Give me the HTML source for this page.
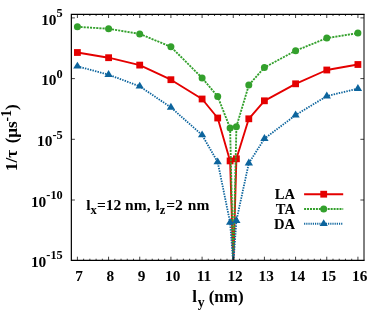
<!DOCTYPE html><html><head><meta charset="utf-8"><style>html,body{margin:0;padding:0;background:#fff}svg{display:block;will-change:transform}text{font-family:"Liberation Serif",serif;font-weight:bold;fill:#000}</style></head><body>
<svg width="382" height="320" viewBox="0 0 382 320">
<rect width="382" height="320" fill="#fff"/>
<defs><clipPath id="c"><rect x="71.3" y="14.4" width="292.6" height="245.9"/></clipPath></defs>
<g clip-path="url(#c)" fill="none" stroke-linejoin="round">
<path d="M77.4 52.5 L108.6 57.7 L139.7 65.1 L170.9 79.7 L202.1 99.0 L217.7 118.0 L230.1 160.9 L233.3 264.3 L236.4 158.8 L248.8 118.8 L264.4 100.8 L295.6 83.8 L326.8 70.0 L357.9 64.5" stroke="#e40000" stroke-width="1.9"/>
</g>
<rect x="74.0" y="49.1" width="6.8" height="6.8" fill="#e40000"/>
<rect x="105.2" y="54.3" width="6.8" height="6.8" fill="#e40000"/>
<rect x="136.3" y="61.7" width="6.8" height="6.8" fill="#e40000"/>
<rect x="167.5" y="76.3" width="6.8" height="6.8" fill="#e40000"/>
<rect x="198.7" y="95.6" width="6.8" height="6.8" fill="#e40000"/>
<rect x="214.3" y="114.6" width="6.8" height="6.8" fill="#e40000"/>
<rect x="226.7" y="157.5" width="6.8" height="6.8" fill="#e40000"/>
<rect x="233.0" y="155.4" width="6.8" height="6.8" fill="#e40000"/>
<rect x="245.4" y="115.4" width="6.8" height="6.8" fill="#e40000"/>
<rect x="261.0" y="97.4" width="6.8" height="6.8" fill="#e40000"/>
<rect x="292.2" y="80.4" width="6.8" height="6.8" fill="#e40000"/>
<rect x="323.4" y="66.6" width="6.8" height="6.8" fill="#e40000"/>
<rect x="354.5" y="61.1" width="6.8" height="6.8" fill="#e40000"/>
<g clip-path="url(#c)" fill="none" stroke-linejoin="round">
<path d="M77.4 26.8 L108.6 28.8 L139.7 33.9 L170.9 46.8 L202.1 77.9 L217.7 96.5 L230.1 128.1 L233.3 264.3 L236.4 126.7 L248.8 85.1 L264.4 67.5 L295.6 50.7 L326.8 38.1 L357.9 33.1" stroke="#33a02c" stroke-width="1.85" stroke-dasharray="2.1 1.05"/>
</g>
<circle cx="77.4" cy="26.8" r="3.5" fill="#33a02c"/>
<circle cx="108.6" cy="28.8" r="3.5" fill="#33a02c"/>
<circle cx="139.7" cy="33.9" r="3.5" fill="#33a02c"/>
<circle cx="170.9" cy="46.8" r="3.5" fill="#33a02c"/>
<circle cx="202.1" cy="77.9" r="3.5" fill="#33a02c"/>
<circle cx="217.7" cy="96.5" r="3.5" fill="#33a02c"/>
<circle cx="230.1" cy="128.1" r="3.5" fill="#33a02c"/>
<circle cx="236.4" cy="126.7" r="3.5" fill="#33a02c"/>
<circle cx="248.8" cy="85.1" r="3.5" fill="#33a02c"/>
<circle cx="264.4" cy="67.5" r="3.5" fill="#33a02c"/>
<circle cx="295.6" cy="50.7" r="3.5" fill="#33a02c"/>
<circle cx="326.8" cy="38.1" r="3.5" fill="#33a02c"/>
<circle cx="357.9" cy="33.1" r="3.5" fill="#33a02c"/>
<g clip-path="url(#c)" fill="none" stroke-linejoin="round">
<path d="M77.4 66.3 L108.6 74.7 L139.7 86.3 L170.9 107.4 L202.1 135.0 L217.7 162.0 L230.1 222.5 L233.3 264.3 L236.4 220.6 L248.8 163.2 L264.4 138.7 L295.6 115.1 L326.8 96.1 L357.9 88.6" stroke="#0c649d" stroke-width="1.8" stroke-dasharray="1.45 1.15"/>
</g>
<path d="M77.4 61.7 L81.6 68.6 L73.2 68.6 Z" fill="#0c649d"/>
<path d="M108.6 70.1 L112.7 77.0 L104.4 77.0 Z" fill="#0c649d"/>
<path d="M139.7 81.7 L143.9 88.6 L135.6 88.6 Z" fill="#0c649d"/>
<path d="M170.9 102.8 L175.1 109.8 L166.8 109.8 Z" fill="#0c649d"/>
<path d="M202.1 130.4 L206.2 137.3 L197.9 137.3 Z" fill="#0c649d"/>
<path d="M217.7 157.4 L221.8 164.3 L213.5 164.3 Z" fill="#0c649d"/>
<path d="M230.1 217.9 L234.3 224.8 L226.0 224.8 Z" fill="#0c649d"/>
<path d="M236.4 216.0 L240.5 222.9 L232.2 222.9 Z" fill="#0c649d"/>
<path d="M248.8 158.6 L253.0 165.5 L244.7 165.5 Z" fill="#0c649d"/>
<path d="M264.4 134.1 L268.6 141.0 L260.3 141.0 Z" fill="#0c649d"/>
<path d="M295.6 110.5 L299.7 117.4 L291.4 117.4 Z" fill="#0c649d"/>
<path d="M326.8 91.5 L330.9 98.4 L322.6 98.4 Z" fill="#0c649d"/>
<path d="M357.9 84.0 L362.1 90.9 L353.8 90.9 Z" fill="#0c649d"/>
<g stroke="#000" stroke-width="1.2" fill="none">
<path d="M364.00 14.40H71.35V260.30H364.00" stroke-linecap="square"/>
<path d="M364.00 14.40V260.30" stroke-width="1"/>
<path d="M77.40 260.3v-3.6 M77.40 14.4v3.6 M83.63 260.3v-1.6 M83.63 14.4v1.6 M89.87 260.3v-1.6 M89.87 14.4v1.6 M96.10 260.3v-1.6 M96.10 14.4v1.6 M102.34 260.3v-1.6 M102.34 14.4v1.6 M108.57 260.3v-3.6 M108.57 14.4v3.6 M114.80 260.3v-1.6 M114.80 14.4v1.6 M121.04 260.3v-1.6 M121.04 14.4v1.6 M127.27 260.3v-1.6 M127.27 14.4v1.6 M133.51 260.3v-1.6 M133.51 14.4v1.6 M139.74 260.3v-3.6 M139.74 14.4v3.6 M145.97 260.3v-1.6 M145.97 14.4v1.6 M152.21 260.3v-1.6 M152.21 14.4v1.6 M158.44 260.3v-1.6 M158.44 14.4v1.6 M164.68 260.3v-1.6 M164.68 14.4v1.6 M170.91 260.3v-3.6 M170.91 14.4v3.6 M177.14 260.3v-1.6 M177.14 14.4v1.6 M183.38 260.3v-1.6 M183.38 14.4v1.6 M189.61 260.3v-1.6 M189.61 14.4v1.6 M195.85 260.3v-1.6 M195.85 14.4v1.6 M202.08 260.3v-3.6 M202.08 14.4v3.6 M208.31 260.3v-1.6 M208.31 14.4v1.6 M214.55 260.3v-1.6 M214.55 14.4v1.6 M220.78 260.3v-1.6 M220.78 14.4v1.6 M227.02 260.3v-1.6 M227.02 14.4v1.6 M233.25 260.3v-3.6 M233.25 14.4v3.6 M239.48 260.3v-1.6 M239.48 14.4v1.6 M245.72 260.3v-1.6 M245.72 14.4v1.6 M251.95 260.3v-1.6 M251.95 14.4v1.6 M258.19 260.3v-1.6 M258.19 14.4v1.6 M264.42 260.3v-3.6 M264.42 14.4v3.6 M270.65 260.3v-1.6 M270.65 14.4v1.6 M276.89 260.3v-1.6 M276.89 14.4v1.6 M283.12 260.3v-1.6 M283.12 14.4v1.6 M289.36 260.3v-1.6 M289.36 14.4v1.6 M295.59 260.3v-3.6 M295.59 14.4v3.6 M301.82 260.3v-1.6 M301.82 14.4v1.6 M308.06 260.3v-1.6 M308.06 14.4v1.6 M314.29 260.3v-1.6 M314.29 14.4v1.6 M320.53 260.3v-1.6 M320.53 14.4v1.6 M326.76 260.3v-3.6 M326.76 14.4v3.6 M332.99 260.3v-1.6 M332.99 14.4v1.6 M339.23 260.3v-1.6 M339.23 14.4v1.6 M345.46 260.3v-1.6 M345.46 14.4v1.6 M351.70 260.3v-1.6 M351.70 14.4v1.6 M357.93 260.3v-3.6 M357.93 14.4v3.6 M71.3 17.90h3.6 M364.0 17.90h-3.6 M71.3 78.60h3.6 M364.0 78.60h-3.6 M71.3 139.30h3.6 M364.0 139.30h-3.6 M71.3 200.00h3.6 M364.0 200.00h-3.6 " stroke-width="0.75"/>
</g>
<text x="79.2" y="281" font-size="15.3" text-anchor="middle">7</text>
<text x="110.4" y="281" font-size="15.3" text-anchor="middle">8</text>
<text x="141.5" y="281" font-size="15.3" text-anchor="middle">9</text>
<text x="172.7" y="281" font-size="15.3" text-anchor="middle">10</text>
<text x="203.9" y="281" font-size="15.3" text-anchor="middle">11</text>
<text x="235.1" y="281" font-size="15.3" text-anchor="middle">12</text>
<text x="266.2" y="281" font-size="15.3" text-anchor="middle">13</text>
<text x="297.4" y="281" font-size="15.3" text-anchor="middle">14</text>
<text x="328.6" y="281" font-size="15.3" text-anchor="middle">15</text>
<text x="359.7" y="281" font-size="15.3" text-anchor="middle">16</text>
<text x="62.7" y="25" font-size="15.4" text-anchor="end">10<tspan font-size="12.3" dy="-8">5</tspan></text>
<text x="62.7" y="85" font-size="15.4" text-anchor="end">10<tspan font-size="12.3" dy="-7">0</tspan></text>
<text x="62.7" y="146" font-size="15.4" text-anchor="end">10<tspan font-size="12.3" dy="-7">-5</tspan></text>
<text x="62.7" y="207" font-size="15.4" text-anchor="end">10<tspan font-size="12.3" dy="-8">-10</tspan></text>
<text x="62.7" y="267" font-size="15.4" text-anchor="end">10<tspan font-size="12.3" dy="-8">-15</tspan></text>
<text transform="translate(295 199) scale(0.95 1)" font-size="15.4" text-anchor="end">LA</text>
<path d="M304.1 194.2H343.2" stroke="#e40000" stroke-width="2" />
<rect x="320.3" y="190.8" width="6.8" height="6.8" fill="#e40000"/>
<text transform="translate(295 214) scale(0.95 1)" font-size="15.4" text-anchor="end">TA</text>
<path d="M304.1 209.0H343.2" stroke="#33a02c" stroke-width="2" stroke-dasharray="2 0.95"/>
<circle cx="323.7" cy="209.0" r="3.5" fill="#33a02c"/>
<text transform="translate(295 229) scale(0.95 1)" font-size="15.4" text-anchor="end">DA</text>
<path d="M304.1 223.8H343.2" stroke="#0c649d" stroke-width="2" stroke-dasharray="1.15 1.03"/>
<path d="M323.7 219.2 L327.8 226.1 L319.6 226.1 Z" fill="#0c649d"/>
<text x="86.3" y="210" font-size="15.5">l<tspan font-size="12.6" dy="4">x</tspan><tspan dy="-4">=12 nm,</tspan><tspan dx="1"> l</tspan><tspan font-size="12.6" dy="4" dx="0.1">z</tspan><tspan dy="-4" dx="0.8">=2</tspan><tspan dx="1.1"> nm</tspan></text>
<text x="192.3" y="302" font-size="17">l<tspan font-size="13.6" dy="5.3" dx="0.8">y</tspan><tspan dy="-5.3" dx="-0.2"> (nm)</tspan></text>
<text transform="translate(17 171) rotate(-90)" font-size="17">1/τ<tspan dx="2.4"> (μs</tspan><tspan font-size="13.6" dy="-5.6">-1</tspan><tspan dy="5.6">)</tspan></text>
</svg></body></html>
